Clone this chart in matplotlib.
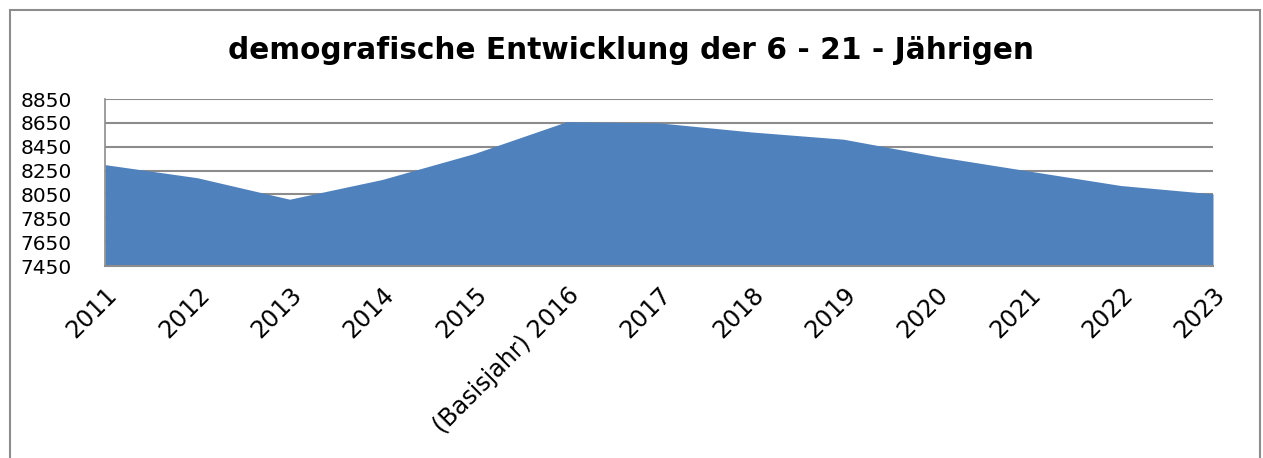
import matplotlib
matplotlib.use("Agg")
import matplotlib.pyplot as plt
from matplotlib.patches import Rectangle

# Werte
years = ["2011", "2012", "2013", "2014", "2015", "(Basisjahr) 2016", "2017",
         "2018", "2019", "2020", "2021", "2022", "2023"]
pupils = [8300, 8190, 8010, 8175, 8393, 8660, 8650, 8574, 8513, 8370,
          8247, 8125, 8055]
y_ticks = [7450, 7650, 7850, 8050, 8250, 8450, 8650, 8850]

fill_color = "#4F81BD"
grid_color = "#8C8C8C"

fig = plt.figure(figsize=(12.63, 4.58), dpi=100)
ax = fig.add_axes([0.0831, 0.4192, 0.8773, 0.3646])

x = list(range(len(years)))

# Gitterlinien hinter der Fläche
for v in y_ticks:
    ax.axhline(v, color=grid_color, linewidth=1.5, zorder=1)

ax.fill_between(x, y_ticks[0], pupils, color=fill_color, linewidth=0, zorder=2)

ax.set_xlim(0, len(years) - 1)
ax.set_ylim(y_ticks[0], y_ticks[-1])
ax.set_yticks(y_ticks)
ax.set_yticklabels([str(v) for v in y_ticks], fontsize=14.5)
ax.set_xticks(x)
ax.set_xticklabels(years, fontsize=17.2, rotation=45, ha="right", va="top",
                   rotation_mode="anchor")
ax.tick_params(axis="y", length=0, pad=24)
ax.tick_params(axis="x", length=0, pad=12)

for side in ["top", "right"]:
    ax.spines[side].set_visible(False)
ax.spines["left"].set_color(grid_color)
ax.spines["bottom"].set_color(grid_color)
ax.spines["left"].set_linewidth(1.2)
ax.spines["bottom"].set_linewidth(1.5)
ax.spines["bottom"].set_zorder(4)

fig.text(0.5, 0.889, "demografische Entwicklung der 6 - 21 - Jährigen",
         ha="center", va="center", fontsize=21.3, fontweight="bold")

# Rahmen um den Diagrammbereich
fig.patches.append(Rectangle((10 / 1263, -0.05), 1250 / 1263, 1 - 10 / 458 + 0.05,
                             transform=fig.transFigure, fill=False,
                             edgecolor="#8C8C8C", linewidth=1.5))

fig.savefig("out.png", dpi=100)
